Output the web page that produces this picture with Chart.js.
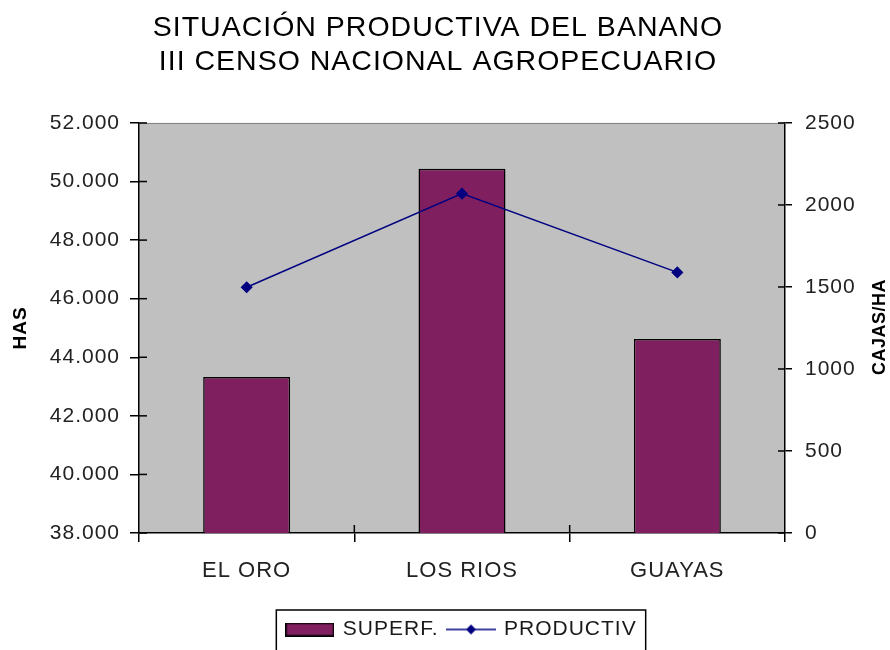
<!DOCTYPE html>
<html><head><meta charset="utf-8">
<script src="https://cdn.jsdelivr.net/npm/chart.js@4"></script>
<style>html,body{margin:0;padding:0;background:#fff}canvas{display:block}</style>
</head><body>
<canvas id="c" width="890" height="650"></canvas>
<script>
const categories = ['EL ORO', 'LOS RIOS', 'GUAYAS'];
const superf = [43330, 50440, 44620];
const productiv = [1498, 2069, 1589];
const leftTickLabels = ['38.000', '40.000', '42.000', '44.000', '46.000', '48.000', '50.000', '52.000'];
const rightTickLabels = ['0', '500', '1000', '1500', '2000', '2500'];
const titleLines = ['SITUACIÓN PRODUCTIVA DEL BANANO', 'III CENSO NACIONAL AGROPECUARIO'];
const seriesNames = ['SUPERF.', 'PRODUCTIV'];
const axisTitles = ['HAS', 'CAJAS/HA'];

const BAR_COLOR = '#801F5F';
const LINE_COLOR = '#000080';
const FONT = "'Liberation Sans', Arial, sans-serif";
Chart.defaults.font.family = FONT;

function barSwatch() {
  const c = document.createElement('canvas');
  c.width = 49; c.height = 14;
  const x = c.getContext('2d');
  x.fillStyle = BAR_COLOR; x.fillRect(0, 0, 49, 14);
  x.strokeStyle = '#000'; x.lineWidth = 1.5; x.strokeRect(0.75, 0.75, 47.5, 12.5);
  return c;
}
function lineSwatch() {
  const c = document.createElement('canvas');
  c.width = 50; c.height = 14;
  const x = c.getContext('2d');
  x.strokeStyle = LINE_COLOR; x.lineWidth = 1.5;
  x.beginPath(); x.moveTo(0, 7); x.lineTo(50, 7); x.stroke();
  x.fillStyle = LINE_COLOR;
  x.beginPath(); x.moveTo(25, 2); x.lineTo(30, 7); x.lineTo(25, 12); x.lineTo(20, 7); x.closePath(); x.fill();
  return c;
}

const spacingPlugin = {
  id: 'spacing',
  beforeUpdate(chart) { chart.ctx.letterSpacing = '1px'; },
  beforeDraw(chart) {
    const ctx = chart.ctx;
    ctx.letterSpacing = '1px';
    const a = chart.chartArea;
    ctx.save();
    ctx.fillStyle = '#fff';
    ctx.fillRect(0, 0, chart.width, chart.height);
    ctx.fillStyle = '#C0C0C0';
    ctx.fillRect(a.left, a.top, a.right - a.left, a.bottom - a.top);
    ctx.restore();
  },
  afterDraw(chart) {
    const ctx = chart.ctx;
    const a = chart.chartArea;
    ctx.save();
    // top border of plot area
    ctx.strokeStyle = '#808080'; ctx.lineWidth = 1;
    ctx.beginPath(); ctx.moveTo(a.left, a.top + 0.5); ctx.lineTo(a.right, a.top + 0.5); ctx.stroke();
    // inner tick marks
    ctx.strokeStyle = '#000'; ctx.lineWidth = 1.5;
    const yl = chart.scales.y, yr = chart.scales.y1, xs = chart.scales.x;
    yl.ticks.forEach((t, i) => {
      const p = yl.getPixelForTick(i);
      ctx.beginPath(); ctx.moveTo(a.left, p); ctx.lineTo(a.left + 8, p); ctx.stroke();
    });
    yr.ticks.forEach((t, i) => {
      const p = yr.getPixelForTick(i);
      ctx.beginPath(); ctx.moveTo(a.right - 7, p); ctx.lineTo(a.right, p); ctx.stroke();
    });
    for (let i = 1; i < categories.length; i++) {
      const p = xs.getPixelForValue(i - 0.5);
      ctx.beginPath(); ctx.moveTo(p, a.bottom - 8); ctx.lineTo(p, a.bottom); ctx.stroke();
    }
    // right axis title (reads bottom to top)
    ctx.fillStyle = '#000';
    ctx.letterSpacing = '0.5px';
    ctx.font = 'bold 18px ' + FONT;
    ctx.textAlign = 'center'; ctx.textBaseline = 'middle';
    ctx.translate(880, 327); ctx.rotate(-Math.PI / 2);
    ctx.fillText(axisTitles[1], 0, 0);
    ctx.restore();
    // legend border (bottom edge runs past the canvas, as in the reference)
    const lg = chart.legend;
    if (lg && lg.legendHitBoxes && lg.legendHitBoxes.length) {
      const hb = lg.legendHitBoxes;
      const l = hb[0].left - 11;
      const r = hb[hb.length - 1].left + hb[hb.length - 1].width + 9;
      ctx.save();
      ctx.strokeStyle = '#000'; ctx.lineWidth = 1.5;
      ctx.strokeRect(l, lg.top + 1, r - l, 120);
      ctx.restore();
    }
  }
};

new Chart(document.getElementById('c'), {
  data: {
    labels: categories,
    datasets: [
      {
        type: 'line', label: seriesNames[1], data: productiv, yAxisID: 'y1',
        borderColor: LINE_COLOR, borderWidth: 1.5, backgroundColor: LINE_COLOR,
        pointStyle: 'rectRot', pointRadius: 5, pointBackgroundColor: LINE_COLOR,
        pointBorderColor: LINE_COLOR, tension: 0, order: 0
      },
      {
        type: 'bar', label: seriesNames[0], data: superf, yAxisID: 'y',
        backgroundColor: BAR_COLOR, borderColor: '#000', borderWidth: 1.5,
        barPercentage: 0.404, categoryPercentage: 1, order: 1
      }
    ]
  },
  options: {
    responsive: false,
    animation: false,
    layout: { padding: { left: 0, right: 14, top: 0, bottom: 0 } },
    plugins: {
      title: {
        display: true, text: titleLines, color: '#000',
        font: { size: 28.5, weight: 'normal', lineHeight: 1.18 },
        padding: { top: 11.5, bottom: 44.2 }
      },
      legend: {
        display: true, position: 'bottom', fullSize: false,
        labels: {
          usePointStyle: true, pointStyleWidth: 45, padding: 10,
          color: '#1a1a1a', font: { size: 21 },
          generateLabels() {
            return [
              { text: seriesNames[0], pointStyle: barSwatch(), fillStyle: BAR_COLOR, strokeStyle: 'transparent', lineWidth: 0, hidden: false, datasetIndex: 1, fontColor: '#1a1a1a' },
              { text: seriesNames[1], pointStyle: lineSwatch(), fillStyle: LINE_COLOR, strokeStyle: 'transparent', lineWidth: 0, hidden: false, datasetIndex: 0, fontColor: '#1a1a1a' }
            ];
          }
        }
      },
      tooltip: { enabled: false }
    },
    scales: {
      x: {
        type: 'category', position: 'bottom', offset: true,
        grid: { offset: true, drawOnChartArea: false, tickLength: 9, color: '#000', lineWidth: 1.5 },
        border: { color: '#000', width: 1.5 },
        ticks: { color: '#222', font: { size: 22 }, padding: 16, maxRotation: 0 },
        afterFit(s) { s.height = 76; }
      },
      y: {
        type: 'linear', position: 'left', min: 38000, max: 52000,
        grid: { drawOnChartArea: false, tickLength: 9, color: '#000', lineWidth: 1.5 },
        border: { color: '#000', width: 1.5 },
        ticks: { stepSize: 2000, color: '#222', font: { size: 21 }, padding: 10,
          callback: (v, i) => leftTickLabels[i] },
        title: { display: true, text: axisTitles[0], color: '#000', font: { size: 19, weight: 'bold' }, padding: { top: 9, bottom: 0 } },
        afterFit(s) { s.width = 139; }
      },
      y1: {
        type: 'linear', position: 'right', min: 0, max: 2500,
        grid: { drawOnChartArea: false, tickLength: 7, color: '#000', lineWidth: 1.5 },
        border: { color: '#000', width: 1.5 },
        ticks: { stepSize: 500, color: '#222', font: { size: 21 }, padding: 13,
          callback: (v, i) => rightTickLabels[i] },
        afterFit(s) { s.width = 91; }
      }
    }
  },
  plugins: [spacingPlugin]
});
</script>
</body></html>
